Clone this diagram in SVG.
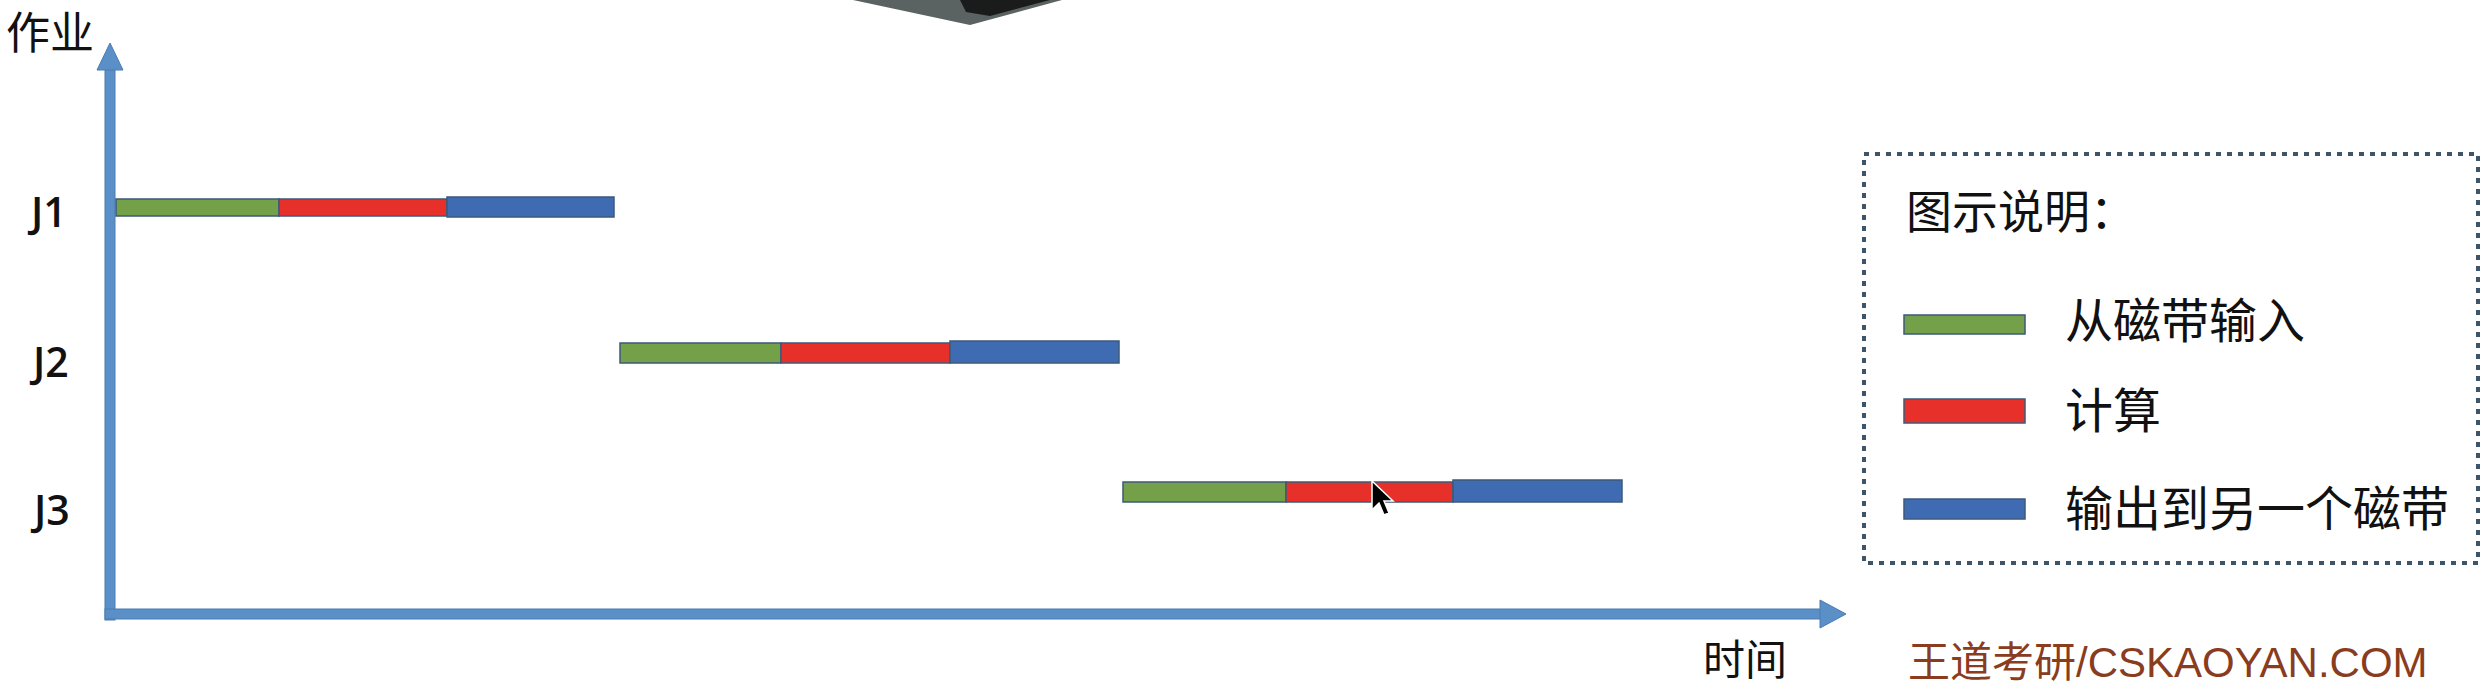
<svg xmlns="http://www.w3.org/2000/svg" width="2485" height="686" viewBox="0 0 2485 686">
<style>
.cjk{font-family:"Noto Sans CJK SC","Noto Sans CJK TC",sans-serif;fill:#111}
.lbl{font-family:"Open Sans","Liberation Sans",Arial,sans-serif;font-size:41px;font-weight:600;fill:#111}
.g{fill:#73a048;stroke:#3d5a78;stroke-width:1.5}
.r{fill:#e8302a;stroke:#3d5a78;stroke-width:1.5}
.b{fill:#3f6bb2;stroke:#3d5a78;stroke-width:1.5}
.axis{fill:#5b8fc7;stroke:#4a7cb0;stroke-width:1}
</style>
<rect width="2485" height="686" fill="#ffffff"/>
<g id="topimage">
<polygon points="853,0 1062,0 970,25" fill="#5a6262"/>
<polygon points="960,0 1050,0 990,16 966,12" fill="#1a1c1c"/>
</g>
<g id="connectors">
<rect class="axis" x="105" y="68" width="10" height="552"/>
<polygon class="axis" points="110,43 97,70 123,70"/>
<rect class="axis" x="105" y="609" width="1717" height="10"/>
<polygon class="axis" points="1820,600 1846,614 1820,628"/>
</g>
<g id="axis-labels">
<text class="cjk" x="6" y="49" font-size="44">作业</text>
<text class="cjk" x="1703" y="675" font-size="42">时间</text>
</g>
<g id="J1">
<text class="lbl" x="31" y="227">J1</text>
<rect class="g" x="116" y="199" width="163" height="17"/>
<rect class="r" x="279" y="199" width="168" height="17"/>
<rect class="b" x="447" y="197" width="167" height="20"/>
</g>
<g id="J2">
<text class="lbl" x="33" y="377">J2</text>
<rect class="g" x="620" y="343" width="161" height="20"/>
<rect class="r" x="781" y="343" width="169" height="20"/>
<rect class="b" x="950" y="341" width="169" height="22"/>
</g>
<g id="J3">
<text class="lbl" x="34" y="525">J3</text>
<rect class="g" x="1123" y="482" width="163" height="20"/>
<rect class="r" x="1286" y="482" width="167" height="20"/>
<rect class="b" x="1453" y="480" width="169" height="22"/>
</g>
<g id="cursor">
<polygon points="1372,481 1372,510 1379,503 1384,515 1389,513 1384,501 1393,501" fill="#000" stroke="#fff" stroke-width="1.5"/>
</g>
<g id="legend">
<rect x="1864" y="154" width="614" height="409" fill="none" stroke="#3e5468" stroke-width="4" stroke-dasharray="5 6"/>
<text class="cjk" x="1906" y="228" font-size="46">图示说明：</text>
<rect class="g" x="1904" y="315" width="121" height="19"/>
<text class="cjk" x="2065" y="338" font-size="48">从磁带输入</text>
<rect class="r" x="1904" y="399" width="121" height="24"/>
<text class="cjk" x="2065" y="428" font-size="48">计算</text>
<rect class="b" x="1904" y="499" width="121" height="20"/>
<text class="cjk" x="2065" y="526" font-size="48">输出到另一个磁带</text>
</g>
<g id="watermark">
<text x="1908" y="677" font-size="42" fill="#8a3c1e" font-family="'Liberation Sans','Noto Sans CJK SC',sans-serif">王道考研/CSKAOYAN.COM</text>
</g>
</svg>
